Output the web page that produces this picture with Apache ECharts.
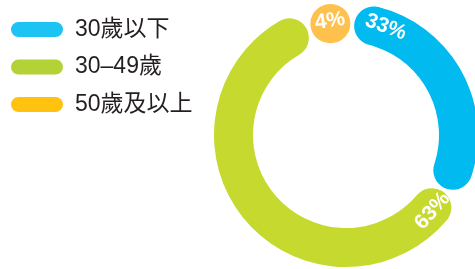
<!DOCTYPE html>
<html><head><meta charset="utf-8">
<script src="https://cdn.jsdelivr.net/npm/echarts@6/dist/echarts.min.js"></script>
<style>html,body{margin:0;padding:0;background:#fff}#c{width:475px;height:269px}</style>
</head><body><div id="c"></div>
<script>
const categories = ['30歲以下', '30–49歲', '50歲及以上'];
const values = [33, 63, 4];
const labels = ['33%', '63%', '4%'];
const pieColors = ['#00BAF0', '#C6D92F', '#FFC14E'];
const legendColors = ['#1DC3F2', '#B2D235', '#FFC20E'];
// where each label sits along its arc (degrees after the segment start, or 'mid')
const labelAnchor = [16, 11, 'mid'];

const chart = echarts.init(document.getElementById('c'), null, {renderer: 'canvas'});
const pill = 'path://M7.5,0 H44.5 A7.5,7.5 0 0 1 44.5,15 H7.5 A7.5,7.5 0 0 1 7.5,0 Z';

chart.setOption({
  animation: false,
  legend: {
    orient: 'vertical', left: 11, top: 17.5, padding: 0, itemGap: 13.5,
    itemWidth: 52, itemHeight: 15, icon: pill,
    textStyle: {fontSize: 23, lineHeight: 24, color: '#231F20',
      fontFamily: '"Liberation Sans","Noto Sans CJK TC",sans-serif', padding: [0, 0, 0, 7]},
    data: categories.map((n, i) => ({name: n, itemStyle: {color: legendColors[i]}}))
  },
  series: [{
    type: 'pie', center: [346, 135], radius: [93, 132],
    startAngle: 86.75, minAngle: 20.5, padAngle: 2, clockwise: true,
    avoidLabelOverlap: false,
    itemStyle: {borderRadius: 20},
    label: {show: true, position: 'inside', color: '#fff', fontSize: 21, fontWeight: 'bold',
      fontFamily: '"Liberation Sans",sans-serif', formatter: p => labels[p.dataIndex]},
    labelLine: {show: false},
    labelLayout: function (params) {
      const data = chart.getModel().getSeriesByIndex(0).getData();
      const L = data.getItemLayout(params.dataIndex);
      const a = labelAnchor[params.dataIndex];
      const dir = L.clockwise === false ? -1 : 1;
      const ang = a === 'mid' ? (L.startAngle + L.endAngle) / 2
                              : L.startAngle + dir * a * Math.PI / 180;
      const r = (L.r + L.r0) / 2 + 2.5;
      let rot = -(ang * 180 / Math.PI + 90);
      while (rot < -90) rot += 180;
      while (rot > 90) rot -= 180;
      return {x: L.cx + r * Math.cos(ang), y: L.cy + r * Math.sin(ang), rotate: rot,
        align: 'center', verticalAlign: 'middle'};
    },
    emphasis: {disabled: true},
    data: categories.map((n, i) => ({name: n, value: values[i], itemStyle: {color: pieColors[i]}}))
  }]
});
</script></body></html>
